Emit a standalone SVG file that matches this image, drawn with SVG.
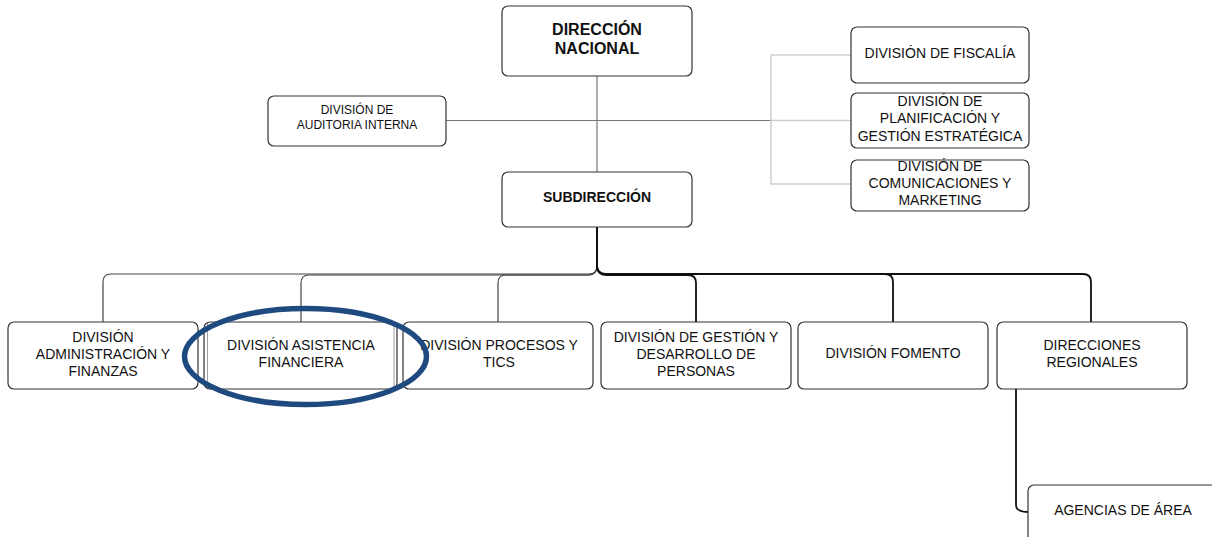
<svg xmlns="http://www.w3.org/2000/svg" width="1212" height="537" viewBox="0 0 1212 537">
<style>
.box{fill:#fff;stroke:#333;stroke-width:1.2}
.t{font-family:"Liberation Sans",Arial,sans-serif;font-size:14px;fill:#111;text-anchor:middle}
.b{font-weight:bold}
.big{font-size:16px}
.mid{font-size:14px}
.sm{font-size:12px}
.g{fill:none;stroke:#777;stroke-width:1.2}
.lg{fill:none;stroke:#cfcfcf;stroke-width:1.5}
.k{fill:none;stroke:#111;stroke-width:1.8}
.d{fill:none;stroke:#444;stroke-width:1.2}
.in{fill:none;stroke:#888;stroke-width:0.8}
</style>
<rect width="1212" height="537" fill="#fff"/>
<g id="connectors">
<line class="g" x1="597" y1="76" x2="597" y2="172"/>
<line class="g" x1="446" y1="120.5" x2="771" y2="120.5"/>
<path class="lg" d="M851 55 H771 V184 H851 M771 120.5 H851"/>
<path class="d" d="M597 227 V266 Q597 274 589 274 H111 Q103 274 103 282 V322"/>
<path class="d" d="M597 227 V266 Q597 275 588 275 H309 Q301 275 301 283 V322"/>
<path class="d" d="M597 227 V266 Q597 275 588 275 H506 Q498 275 498 283 V322"/>
<path class="k" d="M597 227 V266 Q597 275 606 275 H688 Q696 275 696 283 V322"/>
<path class="k" d="M597 227 V266 Q597 274 606 274 H885 Q893 274 893 282 V322"/>
<path class="k" d="M597 227 V266 Q597 274 606 274 H1083 Q1091 274 1091 282 V322"/>
<path class="k" d="M1016 389 V505 Q1016 512 1028 512"/>
</g>
<g id="n-direccion">
<rect class="box" x="502" y="6" width="190" height="70" rx="6"/>
<text class="t b big" x="597" y="35">DIRECCIÓN</text>
<text class="t b big" x="597" y="54">NACIONAL</text>
</g>
<g id="n-subdireccion">
<rect class="box" x="502" y="172" width="190" height="55" rx="6"/>
<text class="t b mid" x="597" y="202">SUBDIRECCIÓN</text>
</g>
<g id="n-auditoria">
<rect class="box" x="268" y="96" width="178" height="50" rx="6"/>
<text class="t sm" x="357" y="114">DIVISIÓN DE</text>
<text class="t sm" x="357" y="129">AUDITORIA INTERNA</text>
</g>
<g id="n-fiscalia">
<rect class="box" x="851" y="27" width="178" height="56" rx="6"/>
<text class="t" x="940" y="58">DIVISIÓN DE FISCALÍA</text>
</g>
<g id="n-planificacion">
<rect class="box" x="851" y="93" width="178" height="55" rx="6"/>
<text class="t" x="940" y="106">DIVISIÓN DE</text>
<text class="t" x="940" y="123">PLANIFICACIÓN Y</text>
<text class="t" x="940" y="141">GESTIÓN ESTRATÉGICA</text>
</g>
<g id="n-comunicaciones">
<rect class="box" x="851" y="160" width="178" height="51" rx="6"/>
<text class="t" x="940" y="171">DIVISIÓN DE</text>
<text class="t" x="940" y="188">COMUNICACIONES Y</text>
<text class="t" x="940" y="205">MARKETING</text>
</g>
<g id="n-administracion">
<rect class="box" x="8" y="322" width="190" height="67" rx="6"/>
<text class="t" x="103" y="342">DIVISIÓN</text>
<text class="t" x="103" y="359">ADMINISTRACIÓN Y</text>
<text class="t" x="103" y="376">FINANZAS</text>
</g>
<g id="n-asistencia">
<rect class="box" x="204" y="322" width="193" height="67" rx="6"/>
<line class="in" x1="207.5" y1="323" x2="207.5" y2="388"/>
<line class="in" x1="394" y1="323" x2="394" y2="388"/>
<text class="t" x="301" y="350">DIVISIÓN ASISTENCIA</text>
<text class="t" x="301" y="367">FINANCIERA</text>
</g>
<g id="n-procesos">
<rect class="box" x="403" y="322" width="190" height="67" rx="6"/>
<text class="t" x="499" y="350">DIVISIÓN PROCESOS Y</text>
<text class="t" x="499" y="367">TICS</text>
</g>
<g id="n-personas">
<rect class="box" x="601" y="322" width="190" height="67" rx="6"/>
<text class="t" x="696" y="342">DIVISIÓN DE GESTIÓN Y</text>
<text class="t" x="696" y="359">DESARROLLO DE</text>
<text class="t" x="696" y="376">PERSONAS</text>
</g>
<g id="n-fomento">
<rect class="box" x="798" y="322" width="190" height="67" rx="6"/>
<text class="t" x="893" y="358">DIVISIÓN FOMENTO</text>
</g>
<g id="n-regionales">
<rect class="box" x="997" y="322" width="190" height="67" rx="6"/>
<text class="t" x="1092" y="350">DIRECCIONES</text>
<text class="t" x="1092" y="367">REGIONALES</text>
</g>
<g id="n-agencias">
<rect class="box" x="1028" y="485" width="200" height="70" rx="6"/>
<text class="t" x="1123" y="515">AGENCIAS DE ÁREA</text>
</g>
<g id="highlight">
<ellipse cx="305.5" cy="356.5" rx="121" ry="48" fill="none" stroke="#1f4a7f" stroke-width="5.5"/>
</g>
</svg>
